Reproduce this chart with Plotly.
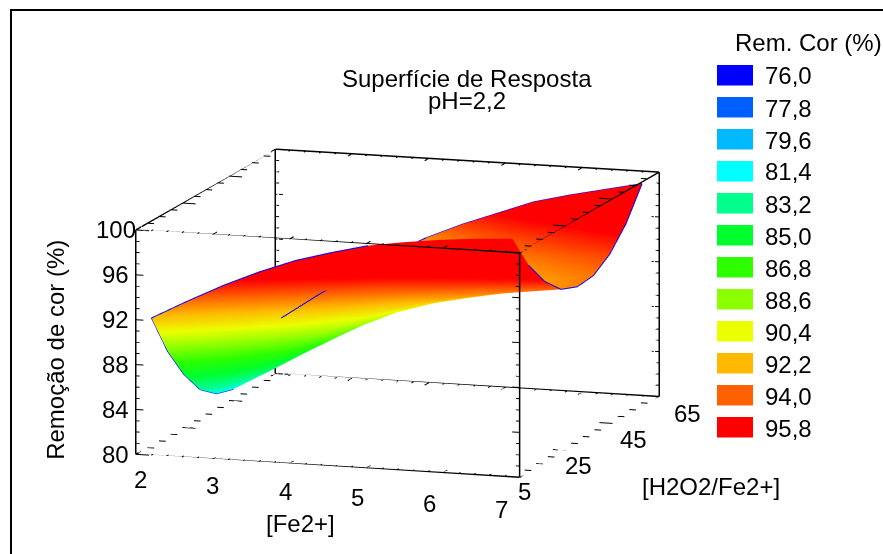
import plotly.graph_objects as go

W, H = 883, 554
FONT = "Liberation Sans"

fe2 = [2.15, 2.62, 3.09, 3.56, 4.03, 4.5, 4.97, 5.44, 5.91, 6.38, 6.85]
h2o2 = [6.8, 13.8, 20.8, 27.7, 34.7, 41.7, 48.7, 55.6, 62.6]
removal = [
    [92.0, 93.7, 95.3, 96.7, 97.9, 98.8, 99.6, 100.1, 100.5, 100.8, 101.0],
    [88.16, 89.82, 91.46, 92.95, 94.27, 95.34, 96.19, 96.71, 97.17, 97.5, 97.78],
    [85.27, 86.9, 88.59, 90.15, 91.59, 92.8, 93.7, 94.26, 94.76, 95.17, 95.49],
    [83.11, 84.77, 86.51, 88.15, 89.67, 90.99, 91.94, 92.56, 93.12, 93.55, 93.96],
    [81.9, 83.6, 85.4, 87.1, 88.7, 90.1, 91.1, 91.8, 92.4, 92.9, 93.35],
    [81.44, 83.22, 85.08, 86.84, 88.5, 89.94, 90.99, 91.78, 92.44, 92.98, 93.51],
    [81.92, 83.8, 85.74, 87.55, 89.24, 90.71, 91.81, 92.72, 93.42, 94.02, 94.58],
    [83.14, 85.17, 87.18, 89.04, 90.75, 92.19, 93.34, 94.38, 95.14, 95.78, 96.43],
    [85.3, 87.5, 89.6, 91.5, 93.2, 94.6, 95.8, 97.0, 97.8, 98.5, 99.2],
]
legend_values = [76.0, 77.8, 79.6, 81.4, 83.2, 85.0, 86.8, 88.6, 90.4, 92.2, 94.0, 95.8]
legend_colors = ["#0000ff", "#0060ff", "#00b9ff", "#00ffff", "#00ff8c", "#00ff2d",
                 "#2dff00", "#8cff00", "#ebff00", "#ffb900", "#ff6000", "#ff0000"]
x_ticks = [2, 3, 4, 5, 6, 7]
y_ticks = [5, 25, 45, 65]
z_ticks = [80, 84, 88, 92, 96, 100]
x_lo, x_hi, y_lo, y_hi, z_lo, z_hi = 2, 7, 5, 65, 80, 100
z_top = 102

# camera / aspect
EYE = (0.3004, -0.9356, 0.1859)
R = 6.0
PX = (80.9, 7.63, 11.45)  # screen pixels per data unit


def seg(store, a, b):
    for i in range(3):
        store[i] += [a[i], b[i], None]


def frange(a, b, step):
    out, n = [], 0
    while a + n * step <= b + 1e-9:
        out.append(a + n * step)
        n += 1
    return out


box = [[], [], []]
for yy in (y_lo, y_hi):
    for zz in (z_lo, z_hi):
        seg(box, (x_lo, yy, zz), (x_hi, yy, zz))
for xx in (x_lo, x_hi):
    for zz in (z_lo, z_hi):
        seg(box, (xx, y_lo, zz), (xx, y_hi, zz))
for xx in (x_lo, x_hi):
    for yy in (y_lo, y_hi):
        seg(box, (xx, yy, z_lo), (xx, yy, z_hi))

ticks = [[], [], []]
for zz in frange(z_lo, z_hi, 1):
    L = 8 if (zz - z_lo) % 4 == 0 else 4
    dx = L / PX[0]
    for xx, sgn in ((x_lo, 1), (x_hi, -1)):
        for yy in (y_lo, y_hi):
            seg(ticks, (xx, yy, zz), (xx + sgn * dx, yy, zz))
for xv in frange(x_lo, x_hi, 0.2):
    L = 14 if abs(xv - round(xv)) < 1e-6 else 7
    dy = L / PX[1]
    for yy, sgn in ((y_lo, 1), (y_hi, -1)):
        for zz in (z_lo, z_hi):
            seg(ticks, (xv, yy, zz), (xv, yy + sgn * dy, zz))
for yv in frange(y_lo, y_hi, 5):
    L = 14 if (yv - y_lo) % 20 == 0 else 7
    dx = L / PX[0]
    for xx, sgn in ((x_lo, 1), (x_hi, -1)):
        for zz in (z_lo, z_hi):
            seg(ticks, (xx, yv, zz), (xx + sgn * dx, yv, zz))

fig = go.Figure()
scale_stops = [[(v - legend_values[0]) / (legend_values[-1] - legend_values[0]), c]
               for v, c in zip(legend_values, legend_colors)]
fig.add_trace(go.Surface(
    x=fe2, y=h2o2, z=removal, colorscale=scale_stops,
    cmin=legend_values[0], cmax=legend_values[-1], showscale=False, hoverinfo="skip",
    lighting=dict(ambient=1, diffuse=0, specular=0, fresnel=0, roughness=1),
))


def line3(xs, ys, zs, color, width):
    fig.add_trace(go.Scatter3d(x=xs, y=ys, z=zs, mode="lines", showlegend=False,
                               hoverinfo="skip", line=dict(color=color, width=width)))


line3(box[0], box[1], box[2], "#000000", 3)
line3(ticks[0], ticks[1], ticks[2], "#000000", 2)

BLUE = "#0000ff"
n_rows, n_cols = len(h2o2), len(fe2)
# x = low end of the surface
line3([fe2[0]] * n_rows, h2o2, [r[0] for r in removal], BLUE, 2)
# x = high end
line3([fe2[-1]] * (n_rows - 1), h2o2[1:], [r[-1] for r in removal[1:]], BLUE, 2)
# y = low edge
line3(fe2[:7], [h2o2[0]] * 7, removal[0][:7], BLUE, 2)
# y = high edge, right part where it is the true silhouette
line3(fe2[3:], [h2o2[-1]] * (n_cols - 3), removal[-1][3:], BLUE, 2)
# y = high edge, left part: slid along the line of sight so it stays in view as in the reference
SHIFT = 392
sx, sy, sz = [SHIFT * EYE[i] / PX[i] for i in range(3)]
line3([v + sx for v in fe2[:5]], [h2o2[-1] + sy] * 5, [v + sz for v in removal[-1][:5]], BLUE, 2)

font = dict(family=FONT, size=24, color="#000000")
notes = []
for i, v in enumerate(x_ticks):
    notes.append(dict(x=v, y=y_lo, z=z_lo, text=str(v), showarrow=False, font=font,
                      xshift=5 - 4.6 * i, yshift=-25 - 1.4 * i))
for i, v in enumerate(y_ticks):
    notes.append(dict(x=x_hi, y=v, z=z_lo, text=str(v), showarrow=False, font=font,
                      xshift=5 + 8 * i, yshift=-14 - 1 * i))
for v in z_ticks:
    notes.append(dict(x=x_lo, y=y_lo, z=v, text=str(v), showarrow=False, font=font, xshift=-20))
notes.append(dict(x=x_lo, y=y_lo, z=90, text="Remoção de cor (%)", showarrow=False, font=font,
                  textangle=-90, xshift=-81, yshift=-8))
notes.append(dict(x=4.5, y=y_lo, z=z_lo, text="[Fe2+]", showarrow=False, font=font,
                  xshift=-27, yshift=-58))
notes.append(dict(x=x_hi, y=35, z=z_lo, text="[H2O2/Fe2+]", showarrow=False, font=font,
                  xshift=122, yshift=-50))


def px(v):
    return v / W


def py(v):
    return 1 - v / H


shapes = [
    dict(type="line", xref="paper", yref="paper", x0=px(11), x1=px(11), y0=py(10), y1=py(H),
         line=dict(color="#000000", width=2)),
    dict(type="line", xref="paper", yref="paper", x0=px(10), x1=px(W), y0=py(10), y1=py(10),
         line=dict(color="#000000", width=2)),
]
annots = [
    dict(xref="paper", yref="paper", x=px(467), y=py(78), xanchor="center", yanchor="middle",
         text="Superfície de Resposta", showarrow=False, font=font),
    dict(xref="paper", yref="paper", x=px(467), y=py(100), xanchor="center", yanchor="middle",
         text="pH=2,2", showarrow=False, font=font),
    dict(xref="paper", yref="paper", x=px(808), y=py(43), xanchor="center", yanchor="middle",
         text="Rem. Cor (%)", showarrow=False, font=font),
]
for i, (v, c) in enumerate(zip(legend_values, legend_colors)):
    top = 65 + 32 * i
    shapes.append(dict(type="rect", xref="paper", yref="paper", x0=px(717), x1=px(753),
                       y0=py(top), y1=py(top + 20.5), fillcolor=c, line=dict(width=0)))
    annots.append(dict(xref="paper", yref="paper", x=px(763), y=py(top + 11), xanchor="left",
                       yanchor="middle", text=f"{v:.1f}".replace(".", ","), showarrow=False,
                       font=font))

axis = dict(visible=False)
ASPECT = 1.6
fig.update_layout(
    width=W, height=H, margin=dict(l=0, r=0, t=0, b=0), paper_bgcolor="white",
    showlegend=False, shapes=shapes, annotations=annots, font=dict(family=FONT),
    scene=dict(
        domain=dict(x=[0, 0.9], y=[0, 0.91]),
        xaxis=dict(axis, range=[x_lo, x_hi]),
        yaxis=dict(axis, range=[y_lo, y_hi]),
        zaxis=dict(axis, range=[z_lo, z_top]),
        aspectmode="manual",
        aspectratio=dict(x=1 * ASPECT, y=1.132 * ASPECT, z=0.623 * ASPECT),
        camera=dict(eye=dict(x=EYE[0] * R, y=EYE[1] * R, z=EYE[2] * R),
                    up=dict(x=0, y=0, z=1), center=dict(x=0, y=0, z=0),
                    projection=dict(type="orthographic")),
        annotations=notes,
    ),
)
fig.write_html("out.html", config=dict(displayModeBar=False),
               post_script="document.body.style.margin='0';document.documentElement.style.overflow='hidden';")
